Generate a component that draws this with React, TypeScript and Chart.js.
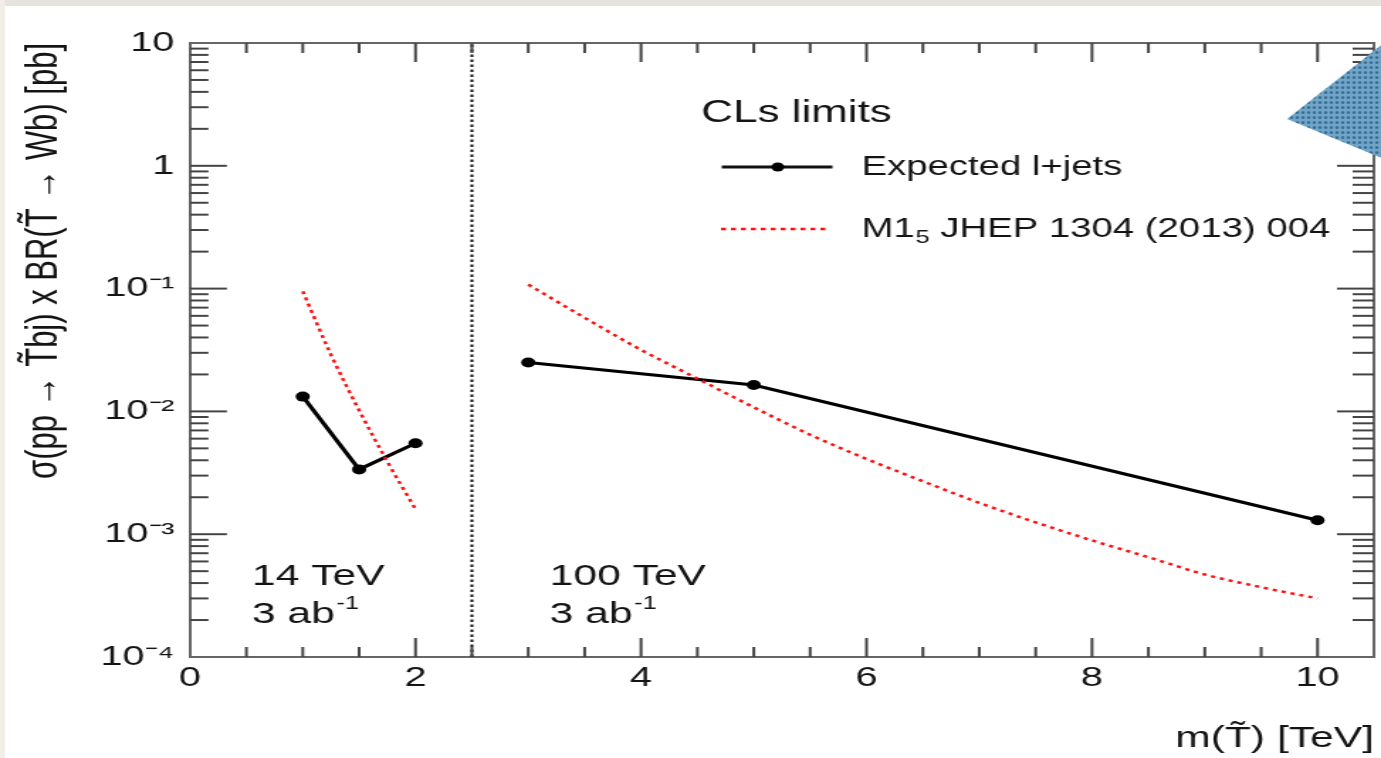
import React, { useEffect, useRef } from 'react';
import { Chart, registerables } from 'chart.js';

Chart.register(...registerables);

// ---------- data ----------
const expected14X = [1, 1.5, 2];
const expected14Y = [0.0132, 0.00337, 0.0055];
const expected100X = [3, 5, 10];
const expected100Y = [0.025, 0.0164, 0.0013];

const theory14X = [1, 1.25, 1.5, 1.75, 2];
const theory14Y = [0.095, 0.029, 0.0102, 0.0039, 0.0016];
const theory100X = [3, 3.5, 4, 4.5, 5, 5.5, 6, 6.5, 7, 7.5, 8, 8.5, 9, 9.5, 10];
const theory100Y = [0.108, 0.0579, 0.0317, 0.0185, 0.0108, 0.00646, 0.0041, 0.0027, 0.0018, 0.00125, 0.00089, 0.00065, 0.00047, 0.00037, 0.0003];

const boundaryX = [2.5, 2.5];
const boundaryY = [1e-4, 10];

const xTickValues = [0, 2, 4, 6, 8, 10];
const xTickLabels = ['0', '2', '4', '6', '8', '10'];
const yTickValues = [1e-4, 1e-3, 1e-2, 1e-1, 1, 10];
const yTickLabels = ['10⁻⁴', '10⁻³', '10⁻²', '10⁻¹', '1', '10'];

const xTitle = 'm(T̃) [TeV]';
const yTitle = 'σ(pp → T̃bj) x BR(T̃ → Wb) [pb]';
const legendTitle = 'CLs limits';
const expectedLabel = 'Expected l+jets';
const theoryLabelMain = 'M1';
const theoryLabelSub = '5';
const theoryLabelRest = ' JHEP 1304 (2013) 004';
const energyLabels = ['14 TeV', '100 TeV'];
const lumiLabel = '3 ab';
const lumiExponent = '-1';

// ---------- layout ----------
const PAGE_W = 1381;
const PAGE_H = 758;
const W = 973;
const S = PAGE_W / W;
const FONT = "'Liberation Sans', Arial, Helvetica, sans-serif";
const RED = '#ff1010';
const INK = '#141414';

const pts = (xs: number[], ys: number[]) => xs.map((x, i) => ({ x, y: ys[i] }));

const decorPlugin = {
  id: 'decor',
  afterDraw(chart: any) {
    const { ctx, chartArea: a, scales } = chart;
    const xs = scales.x;
    const ys = scales.y;
    const line = (x1: number, y1: number, x2: number, y2: number) => {
      ctx.beginPath();
      ctx.moveTo(x1, y1);
      ctx.lineTo(x2, y2);
      ctx.stroke();
    };
    ctx.save();
    // frame top & right
    ctx.strokeStyle = '#666';
    ctx.lineWidth = 2;
    ctx.beginPath();
    ctx.moveTo(a.left, a.top);
    ctx.lineTo(a.right, a.top);
    ctx.lineTo(a.right, a.bottom);
    ctx.stroke();

    // x ticks (inward, bottom and top)
    ctx.strokeStyle = '#444';
    ctx.lineWidth = 2;
    for (let i = 1; i * 0.5 < xs.max; i++) {
      const v = i * 0.5;
      const px = xs.getPixelForValue(v);
      const major = i % 4 === 0;
      const len = major ? 19 : 10;
      line(px, a.bottom, px, a.bottom - len);
      line(px, a.top, px, a.top + len);
    }
    // y ticks (inward, left and right)
    for (let d = -4; d <= 0; d++) {
      for (let k = 1; k <= 9; k++) {
        const v = k * Math.pow(10, d);
        const py = ys.getPixelForValue(v);
        const major = k === 1;
        if (major && d === -4) continue;
        const lenL = major ? 26 : 13;
        const lenR = major ? 26 : 15;
        line(a.left, py, a.left + lenL, py);
        line(a.right, py, a.right - lenR, py);
      }
    }

    // legend
    ctx.fillStyle = INK;
    ctx.textBaseline = 'alphabetic';
    ctx.textAlign = 'left';
    ctx.font = `31px ${FONT}`;
    ctx.fillText(legendTitle, 494, 122);

    ctx.strokeStyle = '#111';
    ctx.lineWidth = 3;
    line(508.5, 167, 586.5, 167);
    ctx.fillStyle = '#000';
    ctx.beginPath();
    ctx.arc(548, 167, 4.5, 0, Math.PI * 2);
    ctx.fill();

    ctx.strokeStyle = RED;
    ctx.lineWidth = 2.5;
    ctx.setLineDash([3.5, 3.5]);
    line(508, 229, 584, 229);
    ctx.setLineDash([]);

    ctx.fillStyle = INK;
    ctx.font = `27px ${FONT}`;
    ctx.fillText(expectedLabel, 607, 175);
    ctx.fillText(theoryLabelMain, 607, 237);
    let tx = 607 + ctx.measureText(theoryLabelMain).width;
    ctx.font = `18px ${FONT}`;
    ctx.fillText(theoryLabelSub, tx + 0.5, 243);
    tx += ctx.measureText(theoryLabelSub).width + 0.5;
    ctx.font = `27px ${FONT}`;
    ctx.fillText(theoryLabelRest, tx, 237);

    // energy annotations
    const annX = [xs.getPixelForValue(0.55), xs.getPixelForValue(3.19)];
    energyLabels.forEach((lab, i) => {
      ctx.font = `30px ${FONT}`;
      ctx.fillText(lab, annX[i], 585);
      ctx.fillText(lumiLabel, annX[i], 623);
      const w = ctx.measureText(lumiLabel).width;
      ctx.font = `18px ${FONT}`;
      ctx.fillText(lumiExponent, annX[i] + w + 1, 609);
    });

    // blue decorative triangle
    const tile = document.createElement('canvas');
    tile.width = 4;
    tile.height = 5;
    const tctx = tile.getContext('2d')!;
    tctx.fillStyle = '#6ea5c8';
    tctx.fillRect(0, 0, 4, 5);
    tctx.fillStyle = '#3a6b8f';
    tctx.beginPath();
    tctx.ellipse(2, 2.5, 1.1, 1.5, 0, 0, Math.PI * 2);
    tctx.fill();
    const pat = ctx.createPattern(tile, 'repeat');
    ctx.fillStyle = pat || '#5a90b4';
    ctx.beginPath();
    ctx.moveTo(1287 / S, 119);
    ctx.lineTo(W + 2, 43);
    ctx.lineTo(W + 2, 159);
    ctx.closePath();
    ctx.fill();
    ctx.restore();
  },
};

export default function App() {
  const ref = useRef<HTMLCanvasElement>(null);
  useEffect(() => {
    Chart.defaults.font.family = FONT;
    const chart = new Chart(ref.current!, {
      type: 'scatter',
      data: {
        datasets: [
          {
            label: 'boundary',
            data: pts(boundaryX, boundaryY),
            showLine: true,
            borderColor: '#111',
            borderWidth: 2,
            borderDash: [2.5, 2.5],
            pointRadius: 0,
          },
          {
            label: 'theory14',
            data: pts(theory14X, theory14Y),
            showLine: true,
            borderColor: RED,
            borderWidth: 2.5,
            borderDash: [3, 3.5],
            pointRadius: 0,
            cubicInterpolationMode: 'monotone',
          },
          {
            label: 'theory100',
            data: pts(theory100X, theory100Y),
            showLine: true,
            borderColor: RED,
            borderWidth: 2.5,
            borderDash: [3, 3.5],
            pointRadius: 0,
            cubicInterpolationMode: 'monotone',
          },
          {
            label: 'expected14',
            data: pts(expected14X, expected14Y),
            showLine: true,
            borderColor: '#000',
            backgroundColor: '#000',
            borderWidth: 3.2,
            pointRadius: 5,
            pointBorderWidth: 0,
          },
          {
            label: 'expected100',
            data: pts(expected100X, expected100Y),
            showLine: true,
            borderColor: '#000',
            backgroundColor: '#000',
            borderWidth: 3.2,
            pointRadius: 5,
            pointBorderWidth: 0,
          },
        ],
      },
      options: {
        animation: false,
        responsive: false,
        devicePixelRatio: 1,
        events: [],
        layout: { padding: { top: 43, right: W - 1375 / S, left: 0, bottom: 0 } },
        plugins: { legend: { display: false }, tooltip: { enabled: false } },
        scales: {
          x: {
            type: 'linear',
            min: 0,
            max: 10.5,
            grid: { display: false, drawTicks: false },
            border: { display: true, color: '#666', width: 2 },
            afterBuildTicks: (s: any) => {
              s.ticks = xTickValues.map((v) => ({ value: v }));
            },
            afterFit: (s: any) => {
              s.height = PAGE_H - 657;
            },
            ticks: {
              autoSkip: false,
              maxRotation: 0,
              padding: 4,
              color: INK,
              font: { size: 28 },
              callback: (_v: any, i: number) => xTickLabels[i],
            },
            title: {
              display: true,
              text: xTitle,
              align: 'end',
              color: INK,
              font: { size: 30 },
              padding: { top: 0, bottom: 1 },
            },
          },
          y: {
            type: 'logarithmic',
            min: 1e-4,
            max: 10,
            grid: { display: false, drawTicks: false },
            border: { display: true, color: '#666', width: 2 },
            afterBuildTicks: (s: any) => {
              s.ticks = yTickValues.map((v) => ({ value: v }));
            },
            afterFit: (s: any) => {
              s.width = 190 / S;
            },
            ticks: {
              autoSkip: false,
              padding: 11,
              color: INK,
              font: { size: 28 },
              callback: (_v: any, i: number) => yTickLabels[i],
            },
            title: {
              display: true,
              text: yTitle,
              align: 'end',
              color: INK,
              font: { size: 31 },
              padding: { top: 13, bottom: 0 },
            },
          },
        },
      } as any,
      plugins: [decorPlugin],
    });
    return () => chart.destroy();
  }, []);

  return (
    <div style={{ position: 'fixed', left: 0, top: 0, width: PAGE_W, height: PAGE_H, background: '#ffffff', overflow: 'hidden' }}>
      <div style={{ position: 'absolute', left: 0, top: 0, width: PAGE_W, height: 6, background: '#e6e3de' }} />
      <div style={{ position: 'absolute', left: 0, top: 0, width: 5, height: PAGE_H, background: '#f1eee8' }} />
      <div style={{ position: 'absolute', left: 0, top: 0, width: W, height: PAGE_H, transform: `scaleX(${S})`, transformOrigin: '0 0' }}>
        <canvas ref={ref} width={W} height={PAGE_H} style={{ display: 'block', width: W, height: PAGE_H }} />
      </div>
    </div>
  );
}
